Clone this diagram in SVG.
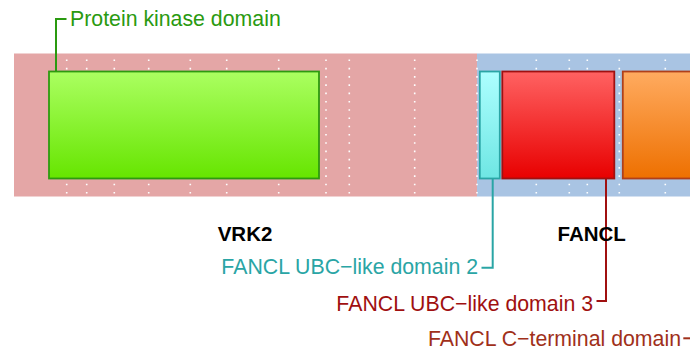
<svg xmlns="http://www.w3.org/2000/svg" width="690" height="350" viewBox="0 0 690 350">
<defs>
<linearGradient id="gGreen" x1="0" y1="0" x2="0" y2="1"><stop offset="0" stop-color="#abff61"/><stop offset="1" stop-color="#66e500"/></linearGradient>
<linearGradient id="gCyan" x1="0" y1="0" x2="0" y2="1"><stop offset="0" stop-color="#adffff"/><stop offset="1" stop-color="#6ee6e3"/></linearGradient>
<linearGradient id="gRed" x1="0" y1="0" x2="0" y2="1"><stop offset="0" stop-color="#ff6262"/><stop offset="1" stop-color="#e80000"/></linearGradient>
<linearGradient id="gOrange" x1="0" y1="0" x2="0" y2="1"><stop offset="0" stop-color="#ffab60"/><stop offset="1" stop-color="#ee7000"/></linearGradient>
</defs>
<style>
.grid line{stroke:#ffffff;stroke-width:1.6;stroke-dasharray:1.6 6.675;}
.lbl{font-family:"Liberation Sans",Arial,sans-serif;font-size:21.3px;}
.name{font-family:"Liberation Sans",Arial,sans-serif;font-size:20.5px;font-weight:bold;fill:#000;text-anchor:middle;}
.lead{fill:none;stroke-width:2;}
</style>
<g id="background">
<rect x="14" y="53.5" width="463" height="143" fill="#e4a6a6"/>
<rect x="477" y="53.5" width="213" height="143" fill="#a9c4e3"/>
</g>
<g class="grid">
<line x1="66.7" y1="59.5" x2="66.7" y2="197"/>
<line x1="86.7" y1="59.5" x2="86.7" y2="197"/>
<line x1="114.3" y1="59.5" x2="114.3" y2="197"/>
<line x1="148.7" y1="59.5" x2="148.7" y2="197"/>
<line x1="190.3" y1="59.5" x2="190.3" y2="197"/>
<line x1="226.7" y1="59.5" x2="226.7" y2="197"/>
<line x1="278.7" y1="59.5" x2="278.7" y2="197"/>
<line x1="326" y1="59.5" x2="326" y2="197"/>
<line x1="349.3" y1="59.5" x2="349.3" y2="197"/>
<line x1="414.7" y1="59.5" x2="414.7" y2="197"/>
<line x1="477" y1="59.5" x2="477" y2="197"/>
<line x1="536.3" y1="59.5" x2="536.3" y2="197"/>
<line x1="569.3" y1="59.5" x2="569.3" y2="197"/>
<line x1="587.3" y1="59.5" x2="587.3" y2="197"/>
<line x1="619.3" y1="59.5" x2="619.3" y2="197"/>
<line x1="665.3" y1="59.5" x2="665.3" y2="197"/>
</g>
<g id="connectors">
<polyline class="lead" stroke="#2a9a10" points="56,71 56,19 66.5,19"/>
<polyline class="lead" stroke="#2aa5a5" points="492.7,178 492.7,267.7 481.5,267.7"/>
<polyline class="lead" stroke="#a01010" points="606,178 606,301 596.5,301"/>
<line class="lead" stroke="#a0301a" x1="683.3" y1="338.3" x2="690" y2="338.3"/>
</g>
<g id="protein-kinase-domain">
<rect x="49" y="71.5" width="270" height="107" fill="url(#gGreen)" stroke="#2e9a10" stroke-width="1.8"/>
<text class="lbl" x="70" y="26" fill="#2a9a10">Protein kinase domain</text>
</g>
<g id="fancl-ubc-like-domain-2">
<rect x="479.8" y="71.5" width="20" height="107" fill="url(#gCyan)" stroke="#2aa5a5" stroke-width="1.8"/>
<text class="lbl" x="478" y="274" fill="#2aa5a5" text-anchor="end">FANCL UBC−like domain 2</text>
</g>
<g id="fancl-ubc-like-domain-3">
<rect x="502.3" y="71.5" width="112" height="107" fill="url(#gRed)" stroke="#a01010" stroke-width="1.8"/>
<text class="lbl" x="593" y="310.7" fill="#a01010" text-anchor="end">FANCL UBC−like domain 3</text>
</g>
<g id="fancl-c-terminal-domain">
<rect x="622.8" y="71.5" width="90" height="107" fill="url(#gOrange)" stroke="#b0401a" stroke-width="1.8"/>
<text class="lbl" x="681" y="345.7" fill="#a0301a" text-anchor="end">FANCL C−terminal domain</text>
</g>
<g id="vrk2">
<text class="name" x="245" y="240.5">VRK2</text>
</g>
<g id="fancl">
<text class="name" x="591.7" y="240.5">FANCL</text>
</g>
</svg>
